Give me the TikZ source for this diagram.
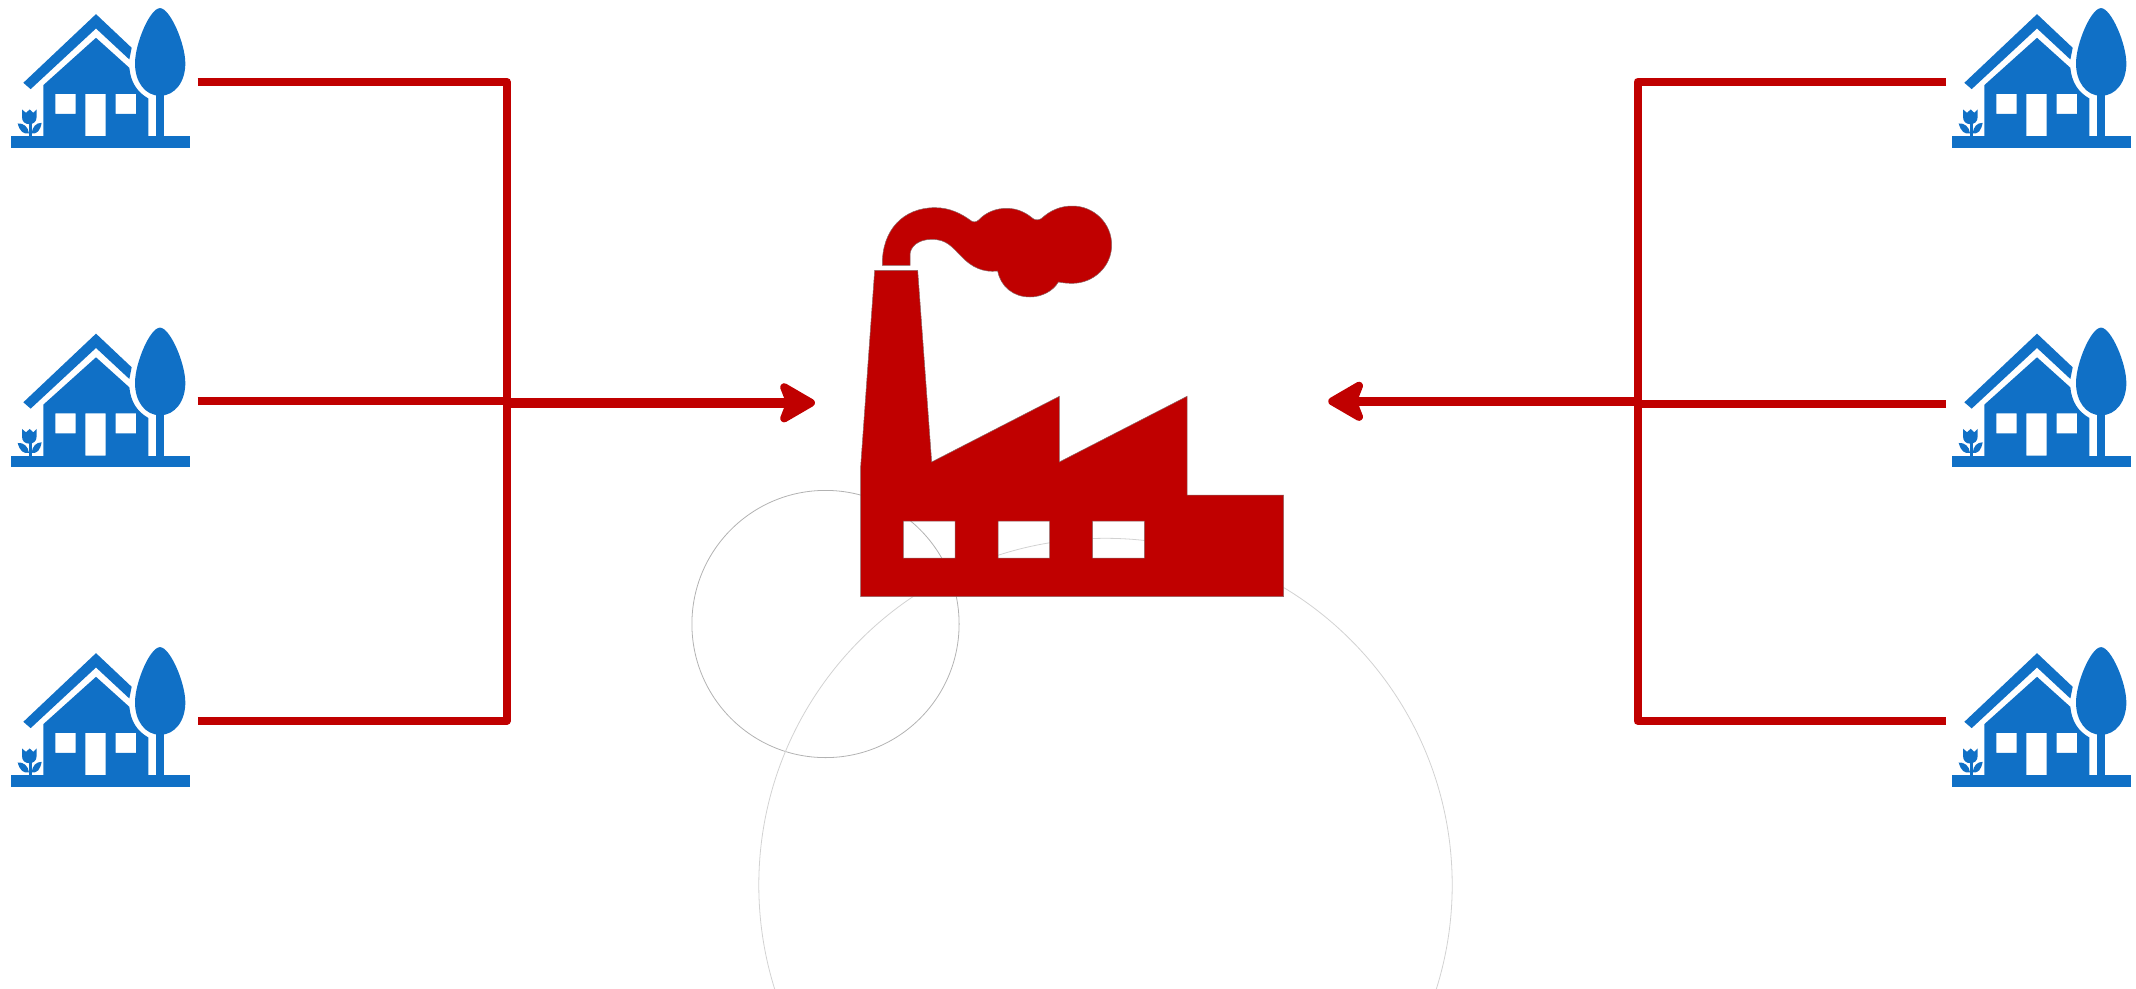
\documentclass[tikz,border=0pt]{standalone}
\usepackage{xcolor}
\usetikzlibrary{arrows.meta}
\definecolor{plantred}{HTML}{C00000}
\definecolor{homeblue}{HTML}{1070C6}
\tikzset{
  feeder/.style={plantred, line width=8pt, line join=round},
  mainline/.style={plantred, line width=#1, -{Stealth[length=42pt, width=48pt, inset=9pt, round, line width=8pt]}},
  houseslot/.style={minimum width=#1, minimum height=140pt, inner sep=0pt, outer sep=0pt},
  ring/.style={line width=.8pt, draw=#1},
  plantfill/.style={fill=plantred, draw=gray!80!plantred, line width=.5pt},
  houseicon/.pic={
    \begin{scope}[scale=1/3, shift={(-301.5,-245)}, fill=homeblue]
      \fill (33,408) rectangle (571,443);
      \fill (70,248) -- (288,42) -- (395,143) -- (388,178) -- (288,85) -- (92,267) -- cycle;
      \fill[even odd rule] (130,410) -- (130,255) -- (288,113) -- (388,203)
        .. controls (392,245) and (410,275) .. (445,295) -- (445,410) -- cycle
        (166,281) rectangle (227,341) (256,281) rectangle (317,408) (347,281) rectangle (408,341);
      \fill (480,24) .. controls (510,24) and (556,130) .. (556,190)
        .. controls (556,245) and (525,287) .. (480,287)
        .. controls (435,287) and (405,245) .. (405,190)
        .. controls (405,130) and (450,24) .. (480,24) -- cycle;
      \fill (468,280) rectangle (492,410);
      \fill (87,365) rectangle (95,410);
      \fill (66,328) -- (78,338) -- (89,328) -- (100,338) -- (110,328) -- (110,350)
        .. controls (110,365) and (100,372) .. (88,372)
        .. controls (75,372) and (66,365) .. (66,350) -- cycle;
      \fill (53,370) .. controls (70,368) and (85,380) .. (87,400)
        .. controls (70,402) and (60,395) .. (53,370) -- cycle;
      \fill (125,368) .. controls (108,368) and (97,380) .. (95,400)
        .. controls (112,402) and (120,392) .. (125,368) -- cycle;
    \end{scope}
  }
}
\begin{document}
\begin{tikzpicture}[x=1pt, y=-1pt]
  \useasboundingbox (0,0) rectangle (2136,988);
  \begin{scope}
    \clip (0,0) rectangle (2136,988);
    \draw[ring=gray!60] (825.5,624) circle (133.6);
    \draw[ring=gray!35] (1105.5,885) circle (346.7);
  \end{scope}
  \foreach \n/\y in {1/81.8,2/401.3,3/720.8} {
    \node[houseslot=194.4] (hl\n) at (100.5,\y) {};
    \pic at (hl\n) {houseicon};
    \node[houseslot=191] (hr\n) at (2041.5,\y) {};
    \pic at (hr\n) {houseicon};
  }
  \node[minimum width=513.3pt, minimum height=391pt, inner sep=0pt, outer sep=0pt] (factory) at (1071.6,401.5) {};
  \begin{scope}[shift={(840,190)}, scale=1/3]
    \path[plantfill, even odd rule] (62,1220) -- (62,830) -- (104,241) -- (233,241) -- (275,816)
      -- (658,619) -- (658,816) -- (1041,619) -- (1041,915) -- (1331,915) -- (1331,1220) -- cycle
      (190,993) rectangle (345,1104) (474,993) rectangle (629,1104) (758,993) rectangle (913,1104);
    \path[plantfill] (127,226) .. controls (125,120) and (190,53) .. (285,53)
      .. controls (330,53) and (365,72) .. (390,90)
      .. controls (397,97) and (408,98) .. (416,90)
      .. controls (440,65) and (470,55) .. (500,55)
      .. controls (535,55) and (560,70) .. (578,85)
      .. controls (585,91) and (597,91) .. (605,85)
      .. controls (630,62) and (660,48) .. (697,48)
      .. controls (762,48) and (815,100) .. (815,165)
      .. controls (815,230) and (760,280) .. (697,280)
      .. controls (680,280) and (665,278) .. (655,276)
      .. controls (640,303) and (605,321) .. (570,321)
      .. controls (520,321) and (482,290) .. (473,243)
      .. controls (430,248) and (395,232) .. (365,200)
      .. controls (335,170) and (320,148) .. (275,148)
      .. controls (235,148) and (210,170) .. (210,195) -- (210,226) -- cycle;
  \end{scope}
  \coordinate (jl) at (506.7,402.8);
  \coordinate (jr) at (1637.5,401.3);
  \draw[feeder] (hl1) -| (jl) |- (hl3);
  \draw[feeder] (hl2) -- (jl |- hl2);
  \draw[feeder] (hr1) -| (jr) |- (hr3);
  \draw[feeder] ([yshift=-3pt]hr2.west) -- ([yshift=-3pt]jr);
  \draw[mainline=10.5pt] (jl) -- (jl -| factory.west);
  \draw[mainline=9pt] (jr) -- (jr -| factory.east);
\end{tikzpicture}
\end{document}
